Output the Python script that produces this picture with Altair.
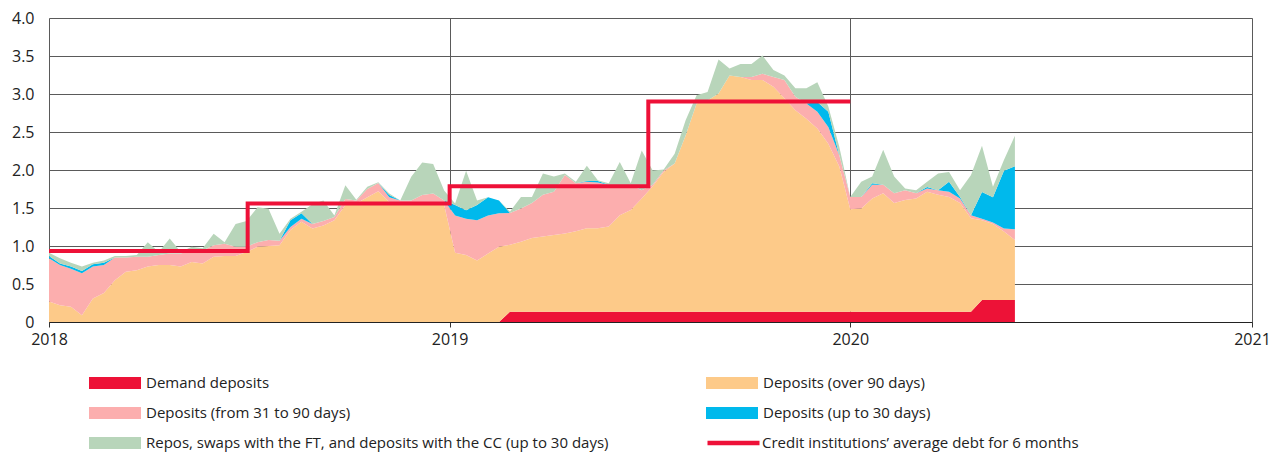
import altair as alt
import pandas as pd

# ---- data (points every 10 days, 2018-01-01 .. 2020-05-30) ----
start_date = "2018-01-01"
step_days = "10D"

series_names = [
    "Demand deposits",
    "Deposits (over 90 days)",
    "Deposits (from 31 to 90 days)",
    "Deposits (up to 30 days)",
    "Repos, swaps with the FT, and deposits with the CC (up to 30 days)",
]
series_colors = ["#ED1237", "#FDCA89", "#FCAEAE", "#00B9EC", "#B8D5BA"]
# legend fills column by column: left column first, then right column
legend_order = [0, 2, 4, 1, 3]

demand = [
    0, 0, 0, 0, 0, 0, 0, 0, 0, 0,
    0, 0, 0, 0, 0, 0, 0, 0, 0, 0,
    0, 0, 0, 0, 0, 0, 0, 0, 0, 0,
    0, 0, 0, 0, 0, 0, 0, 0, 0, 0,
    0, 0, 0.135, 0.135, 0.135, 0.135, 0.135, 0.135, 0.135, 0.135,
    0.135, 0.135, 0.135, 0.135, 0.135, 0.135, 0.135, 0.135, 0.135, 0.135,
    0.135, 0.135, 0.135, 0.135, 0.135, 0.135, 0.135, 0.135, 0.135, 0.135,
    0.135, 0.135, 0.135, 0.135, 0.135, 0.135, 0.135, 0.135, 0.135, 0.135,
    0.135, 0.135, 0.135, 0.135, 0.135, 0.29, 0.29, 0.29, 0.29,
]
over90 = [
    0.27, 0.22, 0.20, 0.09, 0.31, 0.38, 0.55, 0.66, 0.68, 0.73,
    0.75, 0.75, 0.73, 0.79, 0.77, 0.86, 0.87, 0.87, 0.92, 0.99,
    1.00, 1.01, 1.21, 1.32, 1.23, 1.27, 1.34, 1.54, 1.56, 1.64,
    1.72, 1.58, 1.58, 1.54, 1.54, 1.56, 1.54, 0.91, 0.88, 0.81,
    0.90, 0.99, 0.88, 0.92, 0.97, 0.99, 1.01, 1.03, 1.06, 1.10,
    1.10, 1.12, 1.27, 1.34, 1.49, 1.65, 1.84, 1.95, 2.32, 2.74,
    2.78, 2.87, 3.11, 3.09, 3.05, 3.05, 2.96, 2.81, 2.65, 2.54,
    2.41, 2.21, 1.91, 1.35, 1.36, 1.49, 1.56, 1.43, 1.47, 1.49,
    1.58, 1.54, 1.51, 1.43, 1.23, 1.05, 1.00, 0.90, 0.79,
]
d31_90 = [
    0.57, 0.53, 0.50, 0.55, 0.42, 0.37, 0.30, 0.19, 0.18, 0.13,
    0.13, 0.15, 0.17, 0.15, 0.17, 0.15, 0.16, 0.12, 0.07, 0.06,
    0.08, 0.06, 0.04, 0.04, 0.06, 0.06, 0.04, 0.08, 0.04, 0.11,
    0.11, 0.06, 0.02, 0.06, 0.13, 0.13, 0.06, 0.49, 0.48, 0.53,
    0.50, 0.44, 0.42, 0.44, 0.46, 0.55, 0.57, 0.77, 0.63, 0.61,
    0.60, 0.55, 0.38, 0.33, 0.11, 0.02, 0.02, 0, 0, 0,
    0, 0, 0, 0, 0.04, 0.08, 0.13, 0.24, 0.18, 0.20,
    0.22, 0.22, 0.15, 0.16, 0.15, 0.18, 0.11, 0.13, 0.13, 0.07,
    0.04, 0.06, 0.07, 0.06, 0.04, 0.02, 0.02, 0.04, 0.14,
]
up30 = [
    0.03, 0.02, 0.03, 0.03, 0.03, 0.03, 0, 0, 0, 0,
    0, 0, 0, 0, 0, 0, 0, 0, 0, 0,
    0, 0, 0.09, 0.07, 0, 0, 0, 0, 0, 0,
    0, 0.03, 0, 0, 0, 0, 0, 0.14, 0.11, 0.20,
    0.24, 0.17, 0, 0, 0, 0, 0, 0, 0, 0.01,
    0.02, 0, 0, 0, 0, 0, 0, 0, 0, 0,
    0, 0, 0, 0, 0, 0, 0, 0, 0, 0,
    0.13, 0.20, 0, 0, 0, 0.02, 0, 0, 0, 0,
    0.02, 0, 0.13, 0.02, 0, 0.35, 0.33, 0.76, 0.83,
]
repos = [
    0.04, 0.07, 0.05, 0.06, 0.02, 0.03, 0.02, 0.02, 0.02, 0.19,
    0.04, 0.20, 0.02, 0.05, 0.03, 0.15, 0.02, 0.30, 0.34, 0.46,
    0.41, 0.09, 0.02, 0.02, 0.26, 0.27, 0.02, 0.18, 0.01, 0.03,
    0.01, 0.02, 0, 0.31, 0.43, 0.39, 0.13, 0.02, 0.52, 0.06,
    0, 0, 0.02, 0.15, 0.08, 0.28, 0.20, 0.02, 0.02, 0.20,
    0.01, 0.02, 0.32, 0.02, 0.52, 0.19, 0.01, 0.13, 0.20, 0.11,
    0.11, 0.45, 0.09, 0.17, 0.17, 0.24, 0.09, 0.06, 0.11, 0.20,
    0.26, 0.07, 0.11, 0, 0.20, 0.09, 0.46, 0.22, 0.02, 0.04,
    0.07, 0.22, 0.13, 0.09, 0.53, 0.61, 0.14, 0.14, 0.40,
]

debt_label = "Credit institutions\u2019 average debt for 6 months"
debt_color = "#EE1138"
debt_dates = ["2018-01-01", "2018-07-01", "2019-01-01", "2019-07-01", "2020-01-01"]
debt_values = [0.935, 1.56, 1.785, 2.90, 2.90]

y_ticks = [0, 0.5, 1.0, 1.5, 2.0, 2.5, 3.0, 3.5, 4.0]
years = [2018, 2019, 2020, 2021]

# ---- build tables ----
all_series = [demand, over90, d31_90, up30, repos]
dates = pd.date_range(start=start_date, periods=len(over90), freq=step_days)
rows = []
for k, (name, vals) in enumerate(zip(series_names, all_series)):
    for d, v in zip(dates, vals):
        rows.append({"date": d, "series": name, "value": v, "order": k})
df = pd.DataFrame(rows)

debt_df = pd.DataFrame({"date": pd.to_datetime(debt_dates), "value": debt_values, "label": debt_label})

FONT = "Open Sans"
GRID = "#5a5a5a"

x_scale = alt.Scale(
    domain=[alt.DateTime(year=years[0], month=1, date=1), alt.DateTime(year=years[-1], month=1, date=1)],
    nice=False,
)
x_axis = alt.Axis(
    format="%Y",
    values=[alt.DateTime(year=y, month=1, date=1) for y in years],
    grid=True, gridColor=GRID, gridWidth=1,
    tickColor="#333", tickSize=5, domainColor="#222",
    labelFontSize=16, labelPadding=4, labelFlush=False, labelColor="#222",
    title=None,
)
y_scale = alt.Scale(domain=[0, 4], nice=False)
y_axis = alt.Axis(
    values=y_ticks,
    labelExpr="datum.value == 0 ? '0' : format(datum.value, '.1f')",
    grid=True, gridColor=GRID, gridWidth=1,
    domain=False, ticks=False,
    labelFontSize=16, labelPadding=15, labelColor="#222",
    title=None,
)

areas = alt.Chart(df).mark_area(interpolate="linear").encode(
    x=alt.X("date:T", scale=x_scale, axis=x_axis),
    y=alt.Y("value:Q", stack="zero", scale=y_scale, axis=y_axis),
    color=alt.Color(
        "series:N",
        scale=alt.Scale(
            domain=[series_names[i] for i in legend_order],
            range=[series_colors[i] for i in legend_order],
        ),
        legend=alt.Legend(
            title=None, orient="none", legendX=40, legendY=357,
            columns=2, columnPadding=97, rowPadding=14, clipHeight=16,
            symbolType="M-1,-0.23H1V0.23H-1Z", symbolSize=2704,
            symbolStrokeWidth=0, symbolOpacity=1,
            labelFontSize=15, labelOffset=5, labelLimit=700, labelColor="#222",
        ),
    ),
    order=alt.Order("order:Q"),
)

debt_line = alt.Chart(debt_df).mark_line(interpolate="step-after", strokeWidth=4).encode(
    x=alt.X("date:T", scale=x_scale, axis=x_axis),
    y=alt.Y("value:Q", scale=y_scale, axis=y_axis),
    stroke=alt.Stroke(
        "label:N",
        scale=alt.Scale(domain=[debt_label], range=[debt_color]),
        legend=alt.Legend(
            title=None, orient="none", legendX=656, legendY=417,
            clipHeight=16, symbolType="stroke", symbolSize=2704,
            symbolStrokeWidth=4.5,
            labelFontSize=15, labelOffset=0, labelLimit=700, labelColor="#222",
        ),
    ),
)

chart = alt.layer(areas, debt_line).properties(
    width=1203, height=304,
    autosize=alt.AutoSizeParams(type="none"),
    padding={"left": 41, "top": 10, "right": 22, "bottom": 134},
).configure_view(strokeWidth=0).configure(font=FONT)

chart.save("out.html", embed_options={"renderer": "svg", "actions": False})
